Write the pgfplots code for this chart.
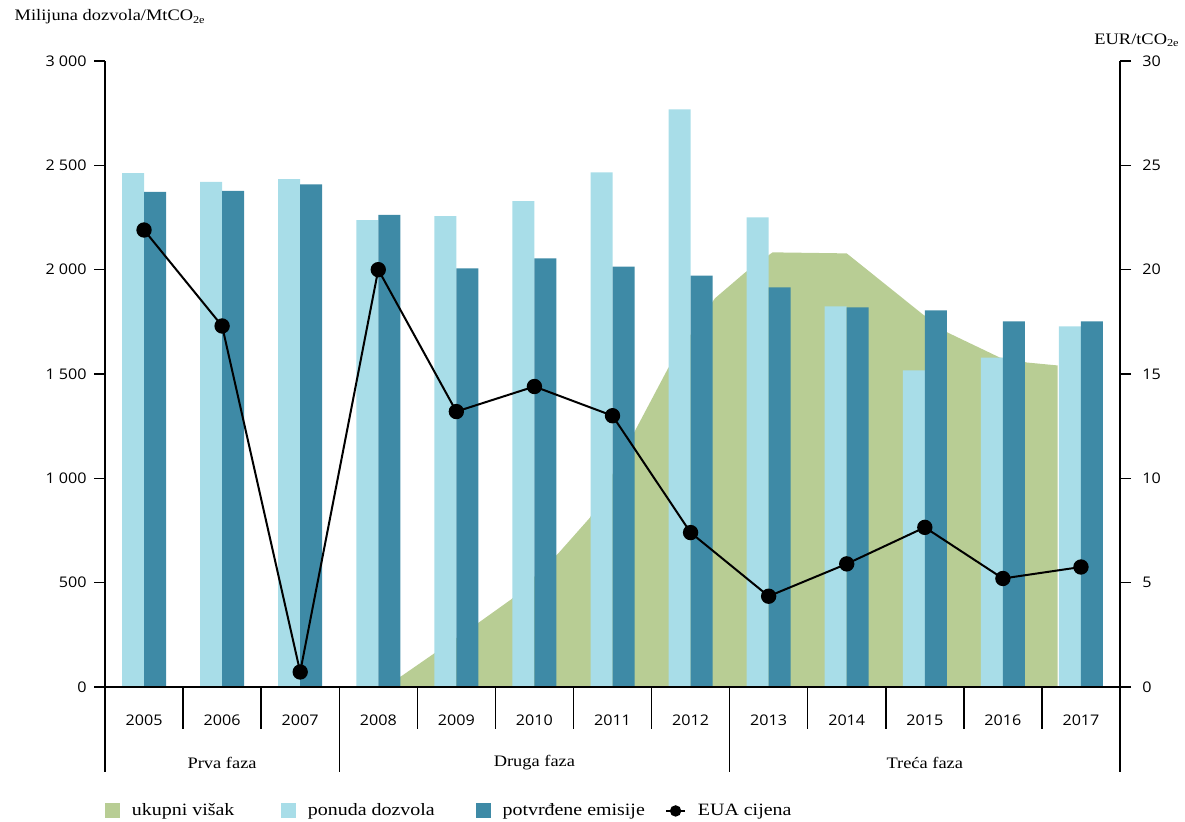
\documentclass[border=0pt]{standalone}
\usepackage{fontspec}
\setmainfont[FakeStretch=1.15]{Liberation Serif}
\newfontfamily\tickfont[FakeStretch=1.1]{Open Sans}
\usepackage{pgfplots}
\pgfplotsset{compat=1.18}

\definecolor{visak}{RGB}{184,205,148}
\definecolor{ponuda}{RGB}{168,221,232}
\definecolor{emisije}{RGB}{62,138,166}

\pgfplotsset{
  base/.style={
    scale only axis, width=761.25pt, height=469.5pt,
    xmin=-0.5, xmax=12.5,
    axis line style={line width=1.1pt, black},
    tick style={line width=1.1pt, black},
    tick align=outside,
    major tick length=8.25pt,
    /pgf/number format/assume math mode=true,
    /pgf/number format/1000 sep={\ },
    tick label style={font=\tickfont\fontsize{11}{13}\selectfont},
    clip=false,
  },
  sq/.style={legend image code/.code={\draw[##1,draw=none] (0pt,-5pt) rectangle (11pt,6pt);}},
  lin/.style={legend image code/.code={\draw[mark repeat=2,mark phase=2,##1] plot coordinates {(0pt,0pt) (7pt,0pt) (14pt,0pt)};}},
}

\begin{document}
\begin{tikzpicture}
\path[use as bounding box] (-78.75pt,-100.5pt) rectangle (810pt,515.25pt);

% lijeva os: visak i stupci
\begin{axis}[base,
  ymin=0, ymax=3000,
  axis y line*=left, axis x line=none,
  ytick={0,500,...,3000},
  yticklabel style={xshift=-2pt},
  legend columns=4,
  legend cell align=left,
  legend style={at={(0,-0.198)}, anchor=west, draw=none, fill=none,
    font=\fontsize{13}{15}\selectfont, inner sep=0pt,
    /tikz/every odd column/.append style={column sep=7pt},
    /tikz/every even column/.append style={column sep=0pt}},
]
\addplot[fill=visak, draw=none, sq] coordinates {
  (3.00,0) (3.30,53) (4.28,307) (4.71,422) (5.30,638) (5.71,811)
  (6.29,1229) (6.71,1526) (7.31,1862) (7.70,1987) (8.05,2083)
  (9.00,2078) (9.96,1790) (10.29,1699) (10.96,1579) (11.31,1555)
  (11.70,1541) (11.70,0)} \closedcycle;
\addlegendentry{\makebox[110pt][l]{ukupni višak}}

\addplot[ybar, bar width=16.5pt, bar shift=-8.25pt, fill=ponuda, draw=none, sq] coordinates {
  (0,2463) (1,2421) (2,2434) (3,2238) (4,2257) (5,2329) (6,2466)
  (7,2768) (8,2251) (9,1824) (10,1517) (11,1579) (12,1728)};
\addlegendentry{\makebox[124pt][l]{ponuda dozvola}}

\addplot[ybar, bar width=16.5pt, bar shift=8.25pt, fill=emisije, draw=none, sq] coordinates {
  (0,2373) (1,2378) (2,2409) (3,2262) (4,2006) (5,2054) (6,2014)
  (7,1971) (8,1915) (9,1819) (10,1805) (11,1752) (12,1752)};
\addlegendentry{\makebox[120pt][l]{potvrđene emisije}}

\addlegendimage{black, line width=1.5pt, mark=*, mark size=3.5pt, lin}
\addlegendentry{EUA cijena}

\node[anchor=west, font=\fontsize{12}{14}\selectfont, xshift=-71.25pt, yshift=33pt]
  at (rel axis cs:0,1) {Milijuna dozvola/MtCO\textsubscript{2e}};
\node[anchor=east, font=\fontsize{12}{14}\selectfont, xshift=48pt, yshift=15.75pt]
  at (rel axis cs:1,1) {EUR/tCO\textsubscript{2e}};
\end{axis}

% desna os: cijena EUA
\begin{axis}[base,
  ymin=0, ymax=30,
  axis y line*=right, axis x line=none,
  ytick={0,5,...,30},
  yticklabel style={xshift=5pt},
]
\addplot[black, line width=1.5pt, mark=*, mark size=5pt] coordinates {
  (0,21.9) (1,17.3) (2,0.72) (3,20.0) (4,13.2) (5,14.4) (6,13.0)
  (7,7.4) (8,4.35) (9,5.9) (10,7.65) (11,5.2) (12,5.75)};
\end{axis}

% godine
\begin{axis}[base,
  ymin=0, ymax=1,
  axis y line=none, axis x line*=bottom,
  xtick={-0.5,0.5,...,12.5},
  x tick label as interval,
  xticklabels={2005,2006,2007,2008,2009,2010,2011,2012,2013,2014,2015,2016,2017},
  major tick length=31.5pt,
  xticklabel style={anchor=center, yshift=6.75pt},
]
\end{axis}

% faze
\begin{axis}[base,
  ymin=0, ymax=1,
  axis y line=none, axis x line*=bottom,
  xtick={-0.5,2.5,7.5,12.5},
  x tick label as interval,
  xticklabels={Prva faza,Druga faza,Treća faza},
  major tick length=63.75pt,
  xticklabel style={anchor=center, yshift=6.75pt, font=\fontsize{12}{14}\selectfont},
]
\end{axis}
\end{tikzpicture}
\end{document}
